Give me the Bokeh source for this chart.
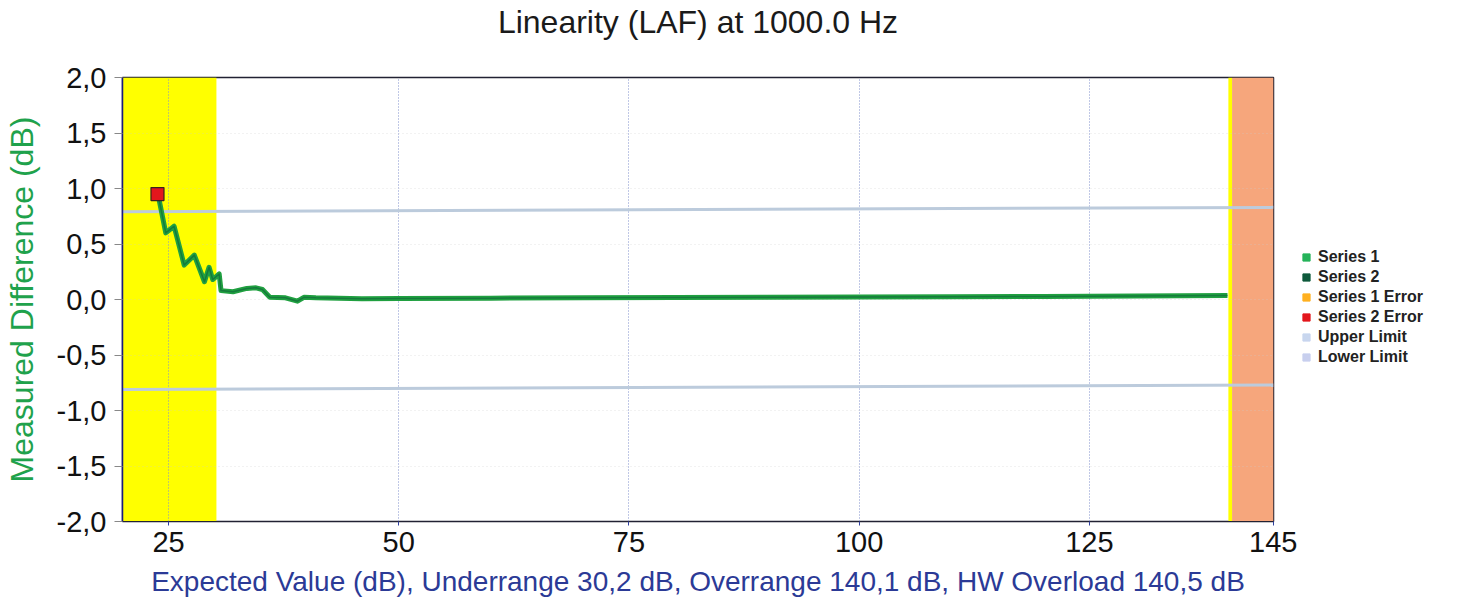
from bokeh.plotting import figure
from bokeh.layouts import row
from bokeh.models import (BoxAnnotation, FixedTicker, CustomJSTickFormatter, Legend, LegendItem,
                          Range1d, Title)
from bokeh.embed import file_html
from bokeh.resources import INLINE

# ---- texts ----
title_text = "Linearity (LAF) at 1000.0 Hz"
x_label = "Expected Value (dB), Underrange 30,2 dB, Overrange 140,1 dB, HW Overload 140,5 dB"
y_label = "Measured Difference (dB)"

# ---- axes ----
x_min, x_max = 20, 145
y_min, y_max = -2.0, 2.0
x_ticks = [25, 50, 75, 100, 125, 145]
y_ticks = [-2.0, -1.5, -1.0, -0.5, 0.0, 0.5, 1.0, 1.5, 2.0]

# ---- ranges of the instrument ----
underrange = 30.2
overrange = 140.1
hw_overload = 140.5

# ---- data ----
expected = [23.9, 24.7, 25.6, 26.7, 27.8, 28.9, 29.4, 29.8, 30.5, 30.7, 32.0, 33.5,
            34.5, 35.2, 36.0, 37.7, 39.0, 39.7, 41.0, 46.0, 50, 60, 70, 80, 90,
            100, 110, 120, 130, 140]
series1 = [0.93, 0.60, 0.66, 0.31, 0.40, 0.16, 0.29, 0.18, 0.23, 0.08, 0.07, 0.10,
           0.105, 0.09, 0.02, 0.015, -0.015, 0.02, 0.015, 0.006, 0.01, 0.012, 0.015,
           0.018, 0.02, 0.022, 0.025, 0.028, 0.032, 0.036]
series2 = [0.93, 0.60, 0.66, 0.31, 0.40, 0.16, 0.29, 0.18, 0.23, 0.08, 0.07, 0.10,
           0.105, 0.09, 0.02, 0.015, -0.015, 0.02, 0.015, 0.006, 0.01, 0.012, 0.015,
           0.018, 0.02, 0.022, 0.025, 0.028, 0.032, 0.036]
err2_x = [23.8]
err2_y = [0.95]
limit_x = [20, 145]
upper_limit = [0.79, 0.83]
lower_limit = [-0.81, -0.77]

legend_labels = ["Series 1", "Series 2", "Series 1 Error", "Series 2 Error", "Upper Limit", "Lower Limit"]
legend_colors = ["#25b35a", "#0e5a3c", "#ffb020", "#e3161c", "#c8d6ee", "#c8cfee"]
no_data = [float("nan")]  # legend-only swatches (nothing drawn)

FONT = "Liberation Sans"

p = figure(width=1297, height=607, output_backend="svg", toolbar_location=None, title=None,
           x_range=Range1d(x_min, x_max), y_range=Range1d(y_min, y_max),
           min_border_left=120, min_border_right=24, min_border_top=77, min_border_bottom=86,
           background_fill_color="white", border_fill_color="white")

# title: a small blank spacer next to the frame, the real title above it
p.add_layout(Title(text=" ", text_font_size="10px", standoff=25), "above")
p.add_layout(Title(text=title_text, text_font=FONT, text_font_size="32px", text_font_style="normal",
                   text_color="#1a1a1a", align="center", offset=-39, standoff=0), "above")

# frame
p.outline_line_color = "#222233"
p.outline_line_width = 1.5

# bands
p.add_layout(BoxAnnotation(left=x_min, right=underrange, fill_color="#ffff00", fill_alpha=1.0,
                           line_alpha=0, level="image"))
p.add_layout(BoxAnnotation(left=overrange, right=hw_overload, fill_color="#ffff00", fill_alpha=1.0,
                           line_alpha=0, level="image"))
p.add_layout(BoxAnnotation(left=hw_overload, right=x_max, fill_color="#f6a67c", fill_alpha=1.0,
                           line_alpha=0, level="image"))

# grids
p.xgrid.ticker = FixedTicker(ticks=x_ticks)
p.xgrid.grid_line_color = "#8090cc"
p.xgrid.grid_line_dash = "1 2"
p.xgrid.grid_line_width = 1
p.ygrid.ticker = FixedTicker(ticks=y_ticks)
p.ygrid.grid_line_color = "#cccccc"
p.ygrid.grid_line_dash = "1 3"
p.ygrid.grid_line_alpha = 0.5

# axes
p.xaxis.ticker = FixedTicker(ticks=x_ticks)
p.yaxis.ticker = FixedTicker(ticks=y_ticks)
p.yaxis.formatter = CustomJSTickFormatter(code="return tick.toFixed(1).replace('.', ',');")
for ax in (p.xaxis[0], p.yaxis[0]):
    ax.major_label_text_font = FONT
    ax.major_label_text_font_size = "29px"
    ax.major_label_text_color = "#111111"
    ax.axis_label_text_font = FONT
    ax.axis_label_text_font_style = "normal"
    ax.minor_tick_line_color = None
    ax.major_tick_in = 0

p.xaxis.axis_label = x_label
p.xaxis.axis_label_text_font_size = "28px"
p.xaxis.axis_label_text_color = "#2b3a96"
p.xaxis.axis_line_color = "#222233"
p.xaxis.major_tick_out = 4
p.xaxis.major_tick_line_color = "#3040a0"
p.xaxis.major_label_standoff = 6
p.xaxis.axis_label_standoff = 11

p.yaxis.axis_label = y_label
p.yaxis.axis_label_text_font_size = "32px"
p.yaxis.axis_label_text_color = "#1fa24c"
p.yaxis.axis_line_color = "#1a1a80"
p.yaxis.axis_line_width = 1.5
p.yaxis.major_tick_out = 8
p.yaxis.major_tick_line_color = "#888888"
p.yaxis.major_label_standoff = 8
p.yaxis.axis_label_standoff = 14

# limits
r_up = p.line(limit_x, upper_limit, line_color="#bccbdc", line_width=3)
r_lo = p.line(limit_x, lower_limit, line_color="#bccbdc", line_width=3)

# series
r1 = p.line(expected, series1, line_color="#20a040", line_width=5, line_join="round")
r2 = p.line(expected, series2, line_color="#157a3c", line_width=1.5, line_join="round")
r_err2 = p.scatter(err2_x, err2_y, marker="square", size=13, fill_color="#e3161c",
                   line_color="#3a2020", line_width=1.2)

# ---- legend panel (separate narrow figure to the right) ----
lg = figure(width=169, height=607, output_backend="svg", toolbar_location=None,
            x_range=Range1d(0, 1), y_range=Range1d(0, 1),
            x_axis_location=None, y_axis_location=None, min_border=0,
            background_fill_color="white", border_fill_color="white")
lg.outline_line_color = None
lg.xgrid.visible = False
lg.ygrid.visible = False
swatches = [lg.scatter(no_data, no_data, marker="square", fill_color=c, line_color=c)
            for c in legend_colors]
legend = Legend(items=[LegendItem(label=lab, renderers=[r]) for lab, r in zip(legend_labels, swatches)],
                location=(0, 154), padding=0, margin=0, spacing=0,
                glyph_width=18, glyph_height=20, label_height=20, label_standoff=3,
                label_text_font=FONT, label_text_font_size="16px", label_text_font_style="bold",
                label_text_color="#222222", border_line_alpha=0, background_fill_alpha=0)
lg.add_layout(legend, "center")

layout = row(p, lg)
open("out.html", "w").write(file_html(layout, INLINE))
